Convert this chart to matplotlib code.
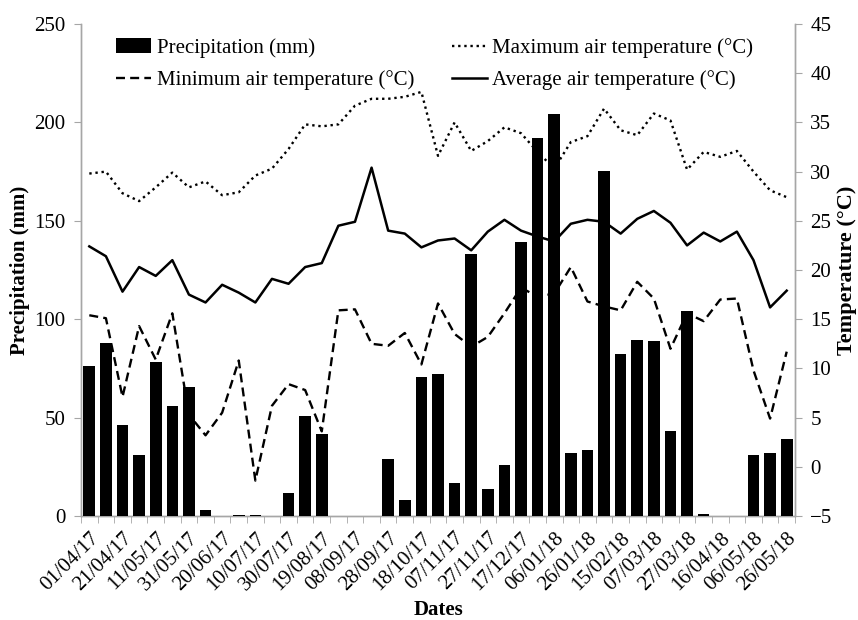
import matplotlib
matplotlib.use("Agg")
import matplotlib.pyplot as plt
import numpy as np

plt.rcParams['font.family'] = ['Liberation Serif', 'DejaVu Serif']

dates = ["01/04/17", "11/04/17", "21/04/17", "01/05/17", "11/05/17", "21/05/17", "31/05/17",
         "10/06/17", "20/06/17", "30/06/17", "10/07/17", "20/07/17", "30/07/17", "09/08/17",
         "19/08/17", "29/08/17", "08/09/17", "18/09/17", "28/09/17", "08/10/17", "18/10/17",
         "28/10/17", "07/11/17", "17/11/17", "27/11/17", "07/12/17", "17/12/17", "27/12/17",
         "06/01/18", "16/01/18", "26/01/18", "05/02/18", "15/02/18", "25/02/18", "07/03/18",
         "17/03/18", "27/03/18", "06/04/18", "16/04/18", "26/04/18", "06/05/18", "16/05/18",
         "26/05/18"]

precipitation = [76, 88, 46, 31, 78, 56, 65.6, 3.3, 0, 0.5, 0.5, 0, 11.5, 51, 41.7, 0, 0, 0,
                 28.8, 7.9, 70.8, 72, 17, 133.3, 13.6, 25.8, 139.3, 192, 204.3, 32, 33.4,
                 175.5, 82.5, 89.4, 88.8, 43.4, 104, 1, 0, 0, 30.8, 32, 39.2]

t_max = [29.8, 30.0, 27.8, 27.0, 28.4, 29.9, 28.4, 29.0, 27.6, 27.9, 29.6, 30.3, 32.3, 34.8,
         34.6, 34.8, 36.7, 37.4, 37.4, 37.6, 38.1, 31.6, 35.0, 32.1, 33.1, 34.5, 33.9, 32.0,
         30.3, 33.0, 33.6, 36.4, 34.2, 33.7, 35.9, 35.2, 30.2, 32.0, 31.5, 32.1, 30.0, 28.1,
         27.4]

t_min = [15.4, 15.1, 7.1, 14.3, 10.9, 15.6, 5.3, 3.2, 5.5, 10.8, -1.4, 6.2, 8.4, 7.8, 3.6,
         15.9, 16.0, 12.5, 12.3, 13.6, 10.4, 16.6, 13.5, 12.2, 13.2, 15.6, 18.2, 17.3, 17.6,
         20.3, 16.8, 16.3, 15.9, 18.8, 17.1, 12.0, 15.6, 14.8, 17.0, 17.1, 9.8, 4.9, 11.7]

t_avg = [22.4, 21.4, 17.8, 20.3, 19.4, 21.0, 17.5, 16.7, 18.5, 17.7, 16.7, 19.1, 18.6, 20.3,
         20.7, 24.5, 24.9, 30.4, 24.0, 23.7, 22.3, 23.0, 23.2, 22.0, 23.9, 25.1, 24.0, 23.4,
         22.9, 24.7, 25.1, 24.9, 23.7, 25.2, 26.0, 24.8, 22.5, 23.8, 22.9, 23.9, 21.0, 16.2,
         17.9]

precip_ticks = [0, 50, 100, 150, 200, 250]
temp_ticks = [-5, 0, 5, 10, 15, 20, 25, 30, 35, 40, 45]

FS = 15
spine_c = '#a6a6a6'

fig = plt.figure(figsize=(8.58, 6.20), dpi=100)
ax = fig.add_axes([81/858, 1-516/620, (795-81)/858, (516-24)/620])
ax2 = ax.twinx()
ax.set_zorder(ax2.get_zorder() + 1)
ax.patch.set_visible(False)

x = np.arange(len(dates))
bars = ax.bar(x, precipitation, width=0.7, color='black', label='Precipitation (mm)', zorder=3)

l_max, = ax2.plot(x, t_max, color='black', lw=1.7, linestyle=(0, (1, 1.6)),
                  label='Maximum air temperature (°C)')
l_min, = ax2.plot(x, t_min, color='black', lw=1.7, linestyle=(0, (3.8, 2.2)),
                  label='Minimum air temperature (°C)')
l_avg, = ax2.plot(x, t_avg, color='black', lw=1.8, linestyle='-',
                  label='Average air temperature (°C)')

ax.set_xlim(-0.5, len(dates) - 0.5)
ax.set_ylim(0, 250)
ax2.set_ylim(-5, 45)
ax.set_yticks(precip_ticks)
ax2.set_yticks(temp_ticks)

ax.set_xticks(x[::2])
ax.set_xticklabels(dates[::2], rotation=45, ha='right', rotation_mode='anchor', fontsize=FS)
ax.set_xticks(np.arange(-0.5, len(dates), 1), minor=True)
ax.tick_params(axis='x', which='major', length=0, pad=9)
ax.tick_params(axis='x', which='minor', length=5, color=spine_c, direction='out')
ax.tick_params(axis='y', length=5, color=spine_c, labelsize=FS, pad=6)
ax2.tick_params(axis='y', length=5, color=spine_c, labelsize=FS, pad=6)

for a in (ax, ax2):
    a.spines['top'].set_visible(False)
    for s in ('left', 'right', 'bottom'):
        a.spines[s].set_color(spine_c)
        a.spines[s].set_linewidth(1.0)

ax.set_ylabel('Precipitation (mm)', fontsize=FS, fontweight='bold', labelpad=3)
ax2.set_ylabel('Temperature (°C)', fontsize=FS + 1, fontweight='bold', labelpad=3)
ax.set_xlabel('Dates', fontsize=FS, fontweight='bold', labelpad=4)

handles = [bars, l_min, l_max, l_avg]
labels = [h.get_label() for h in handles]
fig.legend(handles, labels, ncol=2, frameon=False, fontsize=FS,
           loc='upper left', bbox_to_anchor=(116/858, 1-38/620),
           borderpad=0, borderaxespad=0, handlelength=1.7, handletextpad=0.25,
           columnspacing=1.8, labelspacing=0.6)

fig.savefig('out.png', dpi=100)
